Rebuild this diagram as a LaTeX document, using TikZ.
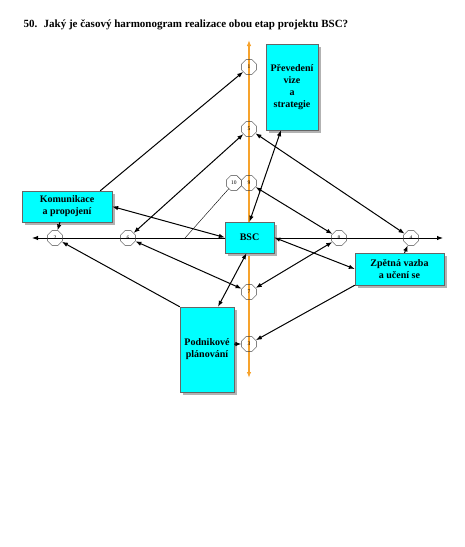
\documentclass[tikz,border=0pt]{standalone}
\usepackage{fontspec}
\setmainfont{Liberation Serif}
\usetikzlibrary{shapes,arrows.meta,positioning,calc,shadows}
\definecolor{axisorange}{RGB}{247,163,45}
\definecolor{boxcyan}{RGB}{0,255,255}

\begin{document}
\begin{tikzpicture}[
    x=1pt, y=-1pt,
    box/.style={rectangle, draw=black!60, fill=boxcyan, font=\bfseries, align=center, inner sep=2pt,
                drop shadow={shadow xshift=3pt, shadow yshift=-3pt, fill=gray!60, opacity=1}},
    num/.style={regular polygon, regular polygon sides=8, draw=black!75, inner sep=0pt,
                minimum size=16pt, font=\fontsize{5.5}{6}\selectfont},
    arrow/.style={-{Latex[length=6pt,width=4.5pt]}, line width=1pt},
    both/.style={{Latex[length=6pt,width=4.5pt]}-{Latex[length=6pt,width=4.5pt]}, line width=1pt},
    axis/.style={{Latex[length=6pt,width=4.5pt]}-{Latex[length=6pt,width=4.5pt]}, draw=axisorange,
                 fill=axisorange, line width=1.5pt}
]
    \useasboundingbox (0,0) rectangle (465,547);
    \node[anchor=west, font=\fontsize{11}{13}\selectfont\bfseries] (title) at (20,25) {50.~ Jaký je časový harmonogram realizace obou etap projektu BSC?};

    \coordinate (top) at (249,40);
    \coordinate (bottom) at (249,378);
    \coordinate (left) at (32,238);
    \coordinate (right) at (443,238);
    \draw[axis] (top) -- (bottom);
    \draw[both] (left) -- (right);

    \node[num] (n1) at (249,67) {1};
    \node[num] (n5) at (249,129) {5};
    \node[num] (n9) at (249,183) {9};
    \node[num, left=0pt of n9] (n10) {10};
    \node[num] (n7) at (249,292) {7};
    \node[num] (n3) at (249,344) {3};
    \node[num] (n2) at (55,238) {2};
    \node[num] (n6) at (128,238) {6};
    \node[num] (n8) at (339,238) {8};
    \node[num] (n4) at (411,238) {4};

    \node[box, minimum width=49pt, minimum height=31pt] (bsc) at (249.5,237.5) {BSC};
    \node[box, minimum width=52pt, minimum height=86pt] (vize) at (292,87) {Převedení\\vize\\a\\strategie};
    \node[box, minimum width=90pt, minimum height=31pt] (kom) at (67,206.5) {Komunikace\\a propojení};
    \node[box, minimum width=89pt, minimum height=32pt] (zpv) at (399.5,269) {Zpětná vazba\\a učení se};
    \node[box, minimum width=54pt, minimum height=85pt] (plan) at (207,349.5) {Podnikové\\plánování};

    \draw[arrow] ([xshift=-12pt]kom.north east) -- (n1);
    \draw[both] (n6) -- (n5);
    \draw[both] (n5) -- (n4);
    \draw[both] (bsc.north) -- ([xshift=-11pt]vize.south);
    \draw[both] (n9) -- (n8);
    \coordinate (cut) at (185,238);
    \draw[thin] (n10) -- (cut);
    \draw[both] (kom.east) -- (bsc.west);
    \draw[arrow] ([xshift=-7pt]kom.south) -- (n2);
    \draw[arrow] (plan.north west) -- (n2);
    \draw[both] (n6) -- (n7);
    \draw[both] ([xshift=11pt]plan.north) -- ([xshift=-3pt]bsc.south);
    \draw[both] (n8) -- (n7);
    \draw[both] (bsc.east) -- (zpv.west);
    \draw[arrow] ([xshift=5pt]zpv.north) -- (n4);
    \draw[arrow] (zpv.south west) -- (n3);
    \draw[arrow] (plan.east |- n3) -- (n3);
\end{tikzpicture}
\end{document}
